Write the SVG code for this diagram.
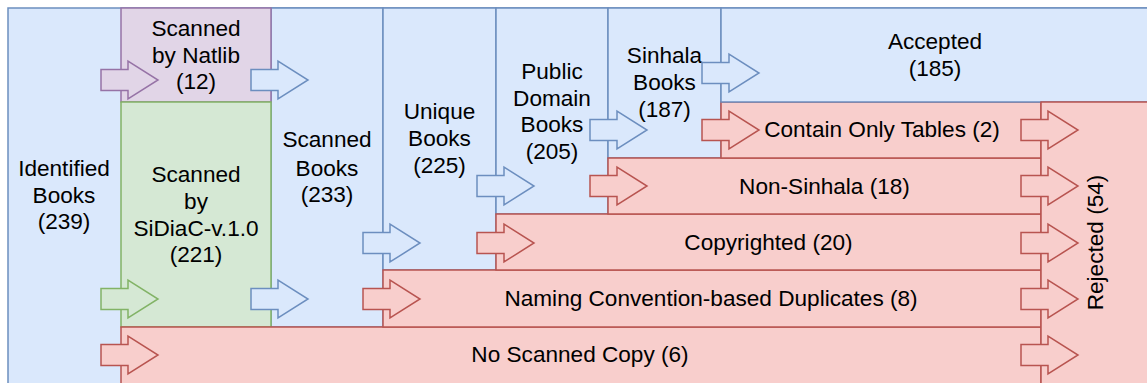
<svg xmlns="http://www.w3.org/2000/svg" xmlns:xlink="http://www.w3.org/1999/xlink" width="1147" height="383" viewBox="0 0 1147 383">
<defs>
<style>
text{font-family:"Liberation Sans",Arial,sans-serif;font-size:22.6px;fill:#000;text-anchor:middle}
rect{stroke-width:1.5}
.b{fill:#dae8fc;stroke:#6c8ebf}
.r{fill:#f8cecc;stroke:#b85450}
.p{fill:#e1d5e7;stroke:#9673a6}
.g{fill:#d5e8d4;stroke:#82b366}
.a{stroke-width:1.5}
</style>
<path id="arr" d="M0,-10.5 H27 V-19 L57,0 L27,19 V10.5 H0 Z"/>
</defs>
<rect width="1147" height="383" fill="#ffffff"/>
<g id="identified">
<rect class="b" x="8" y="8" width="1150" height="390"/>
<text x="64" y="176">Identified</text>
<text x="64" y="202.7">Books</text>
<text x="64" y="229.4">(239)</text>
</g>
<g id="scanned-books">
<rect class="b" x="271" y="8" width="112" height="319"/>
<text x="327" y="147">Scanned</text>
<text x="327" y="175.7">Books</text>
<text x="327" y="202.4">(233)</text>
</g>
<g id="unique-books">
<rect class="b" x="383" y="8" width="113" height="262"/>
<text x="439.5" y="119.3">Unique</text>
<text x="439.5" y="146">Books</text>
<text x="439.5" y="172.7">(225)</text>
</g>
<g id="public-domain">
<rect class="b" x="496" y="8" width="112" height="206"/>
<text x="552" y="79">Public</text>
<text x="552" y="105.7">Domain</text>
<text x="552" y="132.4">Books</text>
<text x="552" y="159.1">(205)</text>
</g>
<g id="sinhala-books">
<rect class="b" x="608" y="8" width="113" height="150"/>
<text x="664.5" y="63.3">Sinhala</text>
<text x="664.5" y="90">Books</text>
<text x="664.5" y="116.7">(187)</text>
</g>
<g id="natlib">
<rect class="p" x="121" y="8" width="150" height="94"/>
<text x="196" y="36">Scanned</text>
<text x="196" y="62.7">by Natlib</text>
<text x="196" y="89.4">(12)</text>
</g>
<g id="sidiac">
<rect class="g" x="121" y="102" width="150" height="225"/>
<text x="196" y="182.3">Scanned</text>
<text x="196" y="209">by</text>
<text x="196" y="235.7">SiDiaC-v.1.0</text>
<text x="196" y="262.4">(221)</text>
</g>
<g id="no-scanned-copy">
<rect class="r" x="121" y="327" width="920" height="62"/>
<text x="580" y="362">No Scanned Copy (6)</text>
</g>
<g id="naming-duplicates">
<rect class="r" x="383" y="270" width="658" height="57"/>
<text x="711" y="306">Naming Convention-based Duplicates (8)</text>
</g>
<g id="copyrighted">
<rect class="r" x="496" y="214" width="545" height="56"/>
<text x="768.5" y="250">Copyrighted (20)</text>
</g>
<g id="non-sinhala">
<rect class="r" x="608" y="158" width="433" height="56"/>
<text x="824.5" y="193.5">Non-Sinhala (18)</text>
</g>
<g id="only-tables">
<rect class="r" x="721" y="102" width="320" height="56"/>
<text x="882" y="137">Contain Only Tables (2)</text>
</g>
<g id="accepted">
<rect class="b" x="721" y="8" width="440" height="94"/>
<text x="935" y="49.3">Accepted</text>
<text x="935" y="76">(185)</text>
</g>
<g id="rejected">
<rect class="r" x="1041" y="102" width="120" height="290"/>
<text transform="translate(1103,242.5) rotate(-90)">Rejected (54)</text>
</g>
<g id="connectors">
<use xlink:href="#arr" class="p a" x="101" y="80"/>
<use xlink:href="#arr" class="b a" x="251" y="80"/>
<use xlink:href="#arr" class="g a" x="101" y="299"/>
<use xlink:href="#arr" class="b a" x="251" y="299"/>
<use xlink:href="#arr" class="r a" x="101" y="355"/>
<use xlink:href="#arr" class="b a" x="363" y="243"/>
<use xlink:href="#arr" class="r a" x="363" y="299"/>
<use xlink:href="#arr" class="b a" x="477" y="186"/>
<use xlink:href="#arr" class="r a" x="477" y="243"/>
<use xlink:href="#arr" class="b a" x="590" y="130"/>
<use xlink:href="#arr" class="r a" x="590" y="186"/>
<use xlink:href="#arr" class="b a" x="702" y="73"/>
<use xlink:href="#arr" class="r a" x="702" y="130"/>
<use xlink:href="#arr" class="r a" x="1021" y="130"/>
<use xlink:href="#arr" class="r a" x="1021" y="186"/>
<use xlink:href="#arr" class="r a" x="1021" y="243"/>
<use xlink:href="#arr" class="r a" x="1021" y="299"/>
<use xlink:href="#arr" class="r a" x="1021" y="355"/>
</g>
</svg>
